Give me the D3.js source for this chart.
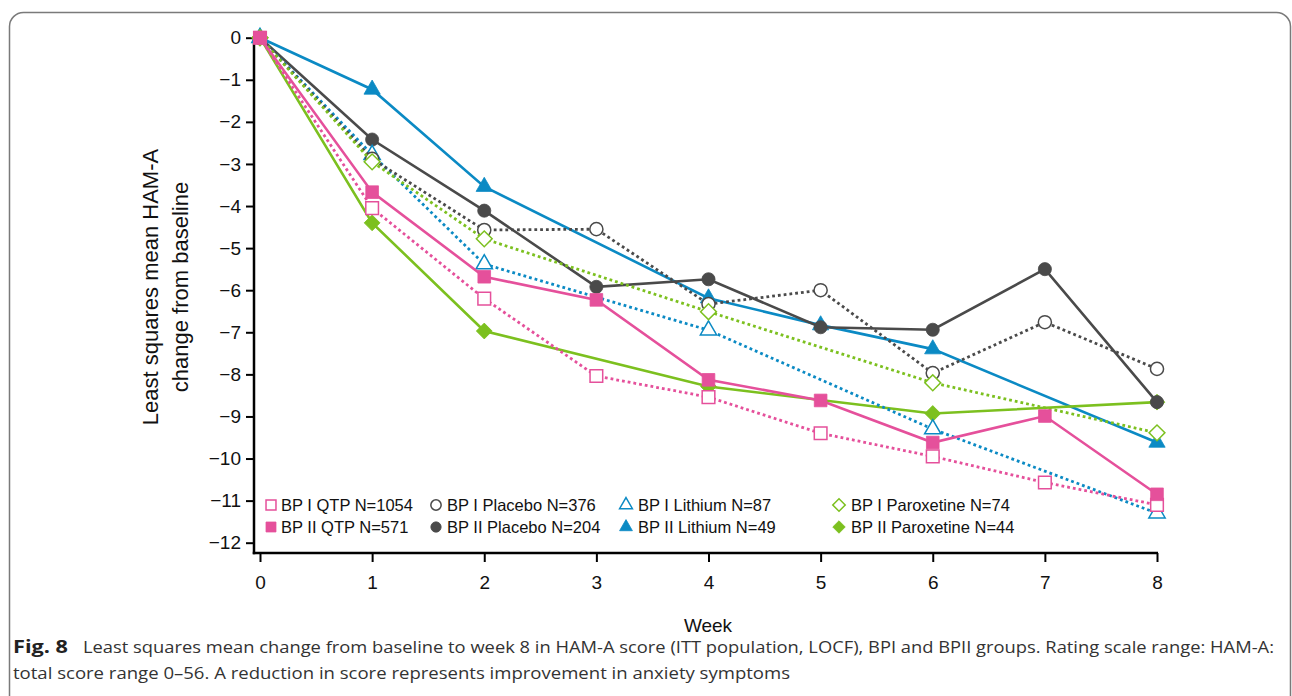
<!DOCTYPE html>
<html><head><meta charset="utf-8">
<script src="https://cdn.jsdelivr.net/npm/d3@7"></script>
<style>body{margin:0;background:#fff}svg{display:block}</style>
</head><body>
<svg id="chart" width="1292" height="696"></svg>
<script>
// ---- data ----
const weeks = [0, 1, 2, 3, 4, 5, 6, 7, 8];
const yTicks = [0, -1, -2, -3, -4, -5, -6, -7, -8, -9, -10, -11, -12];
const bp1Qtp      = [0, -4.05, -6.20, -8.04, -8.54, -9.40, -9.95, -10.57, -11.10];
const bp2Qtp      = [0, -3.67, -5.68, -6.23, -8.13, -8.62, -9.62, -8.99, -10.85];
const bp1Placebo  = [0, -2.88, -4.57, -4.55, -6.33, -6.00, -7.97, -6.76, -7.87];
const bp2Placebo  = [0, -2.42, -4.11, -5.92, -5.74, -6.88, -6.94, -5.50, -8.66];
const bp1Lithium  = [0, -2.78, -5.38, null, -6.95, null, -9.30, null, -11.30];
const bp2Lithium  = [0, -1.23, -3.54, null, -6.19, -6.83, -7.40, null, -9.62];
const bp1Parox    = [0, -2.95, -4.78, null, -6.51, null, -8.20, null, -9.39];
const bp2Parox    = [0, -4.40, -6.97, null, -8.29, null, -8.93, null, -8.66];
const seriesLabels = ["BP I QTP N=1054", "BP I Placebo N=376", "BP I Lithium N=87", "BP I Paroxetine N=74",
                      "BP II QTP N=571", "BP II Placebo N=204", "BP II Lithium N=49", "BP II Paroxetine N=44"];
const xTitle = "Week";
const yTitle = ["Least squares mean HAM-A", "change from baseline"];
const captionBold = "Fig. 8";
const captionLine1 = "Least squares mean change from baseline to week 8 in HAM-A score (ITT population, LOCF), BPI and BPII groups. Rating scale range: HAM-A:";
const captionLine2 = "total score range 0–56. A reduction in score represents improvement in anxiety symptoms";

// ---- styles ----
const PINK = "#E5509B", GRAY = "#4a4a4a", BLUE = "#0B8AC4", GREEN = "#7CC01F";
const series = [
  {label: seriesLabels[6], values: bp2Lithium, color: BLUE,  dotted: false, shape: "triangle", filled: true},
  {label: seriesLabels[7], values: bp2Parox,   color: GREEN, dotted: false, shape: "diamond",  filled: true},
  {label: seriesLabels[5], values: bp2Placebo, color: GRAY,  dotted: false, shape: "circle",   filled: true},
  {label: seriesLabels[2], values: bp1Lithium, color: BLUE,  dotted: true,  shape: "triangle", filled: false},
  {label: seriesLabels[1], values: bp1Placebo, color: GRAY,  dotted: true,  shape: "circle",   filled: false},
  {label: seriesLabels[3], values: bp1Parox,   color: GREEN, dotted: true,  shape: "diamond",  filled: false},
  {label: seriesLabels[0], values: bp1Qtp,     color: PINK,  dotted: true,  shape: "square",   filled: false},
  {label: seriesLabels[4], values: bp2Qtp,     color: PINK,  dotted: false, shape: "square",   filled: true}
];
const legendOrder = [6, 4, 3, 0, 5, 2, 1, 7]; // indexes into series matching seriesLabels order
const FONT = "'Liberation Sans', Arial, Helvetica, sans-serif";

const svg = d3.select("#chart");

// border
svg.append("rect").attr("x", 9.5).attr("y", 12.5).attr("width", 1281).attr("height", 760)
  .attr("rx", 14).attr("fill", "none").attr("stroke", "#7a7a7a").attr("stroke-width", 1.5);

const x = d3.scaleLinear().domain([0, 8]).range([260, 1157]);
const y = d3.scaleLinear().domain([-12, 0]).range([542.7, 37.7]);
const axisY = 553, axisX = 254;

// axes
const gy = svg.append("g").attr("transform", `translate(${axisX},0)`)
  .call(d3.axisLeft(y).tickValues(yTicks).tickSize(8).tickPadding(5).tickFormat(d3.format("d")));
gy.select(".domain").remove();
gy.selectAll(".tick line").attr("stroke", "#000").attr("stroke-width", 2);
gy.selectAll(".tick text").attr("font-family", FONT).attr("font-size", 19).attr("fill", "#111");

const gx = svg.append("g").attr("transform", `translate(0,${axisY})`)
  .call(d3.axisBottom(x).tickValues(weeks).tickSize(9).tickPadding(14).tickFormat(d3.format("d")));
gx.select(".domain").remove();
gx.selectAll(".tick line").attr("stroke", "#000").attr("stroke-width", 2);
gx.selectAll(".tick text").attr("font-family", FONT).attr("font-size", 19).attr("fill", "#111");

svg.append("line").attr("x1", axisX).attr("x2", axisX).attr("y1", y(0) - 1).attr("y2", axisY + 1.25)
  .attr("stroke", "#000").attr("stroke-width", 2.5);
svg.append("line").attr("x1", axisX - 1.25).attr("x2", x(8) + 1).attr("y1", axisY).attr("y2", axisY)
  .attr("stroke", "#000").attr("stroke-width", 2.5);

// titles
svg.append("text").attr("x", (x(0) + x(8)) / 2 + 260 - 260 + (708 - (x(0) + x(8)) / 2)).attr("y", 632)
  .attr("text-anchor", "middle").attr("font-family", FONT).attr("font-size", 19).attr("fill", "#111").text(xTitle);
yTitle.forEach((t, i) => {
  svg.append("text").attr("transform", `translate(${158 + i * 30},287) rotate(-90)`)
    .attr("text-anchor", "middle").attr("font-family", FONT).attr("font-size", 22).attr("fill", "#111").text(t);
});

// markers
function symbolPath(shape, big) {
  const s = big ? 1 : 0.62;
  if (shape === "square") return d3.symbol(d3.symbolSquare, 160 * s)();
  if (shape === "circle") return d3.symbol(d3.symbolCircle, 135 * s)();
  if (shape === "triangle") return d3.symbol(d3.symbolTriangle, 115 * s)();
  return d3.symbol(d3.symbolSquare, 125 * s)();
}
function drawMarker(g, s, cx, cy, big) {
  const p = g.append("path").attr("d", symbolPath(s.shape, big))
    .attr("transform", `translate(${cx},${cy})` + (s.shape === "diamond" ? " rotate(45)" : ""));
  if (s.filled) p.attr("fill", s.color).attr("stroke", s.color).attr("stroke-width", 0.8);
  else p.attr("fill", "#fff").attr("stroke", s.color).attr("stroke-width", 1.5);
}

const line = d3.line().x(d => x(d.w)).y(d => y(d.v));
series.forEach(s => {
  const pts = weeks.map((w, i) => ({w, v: s.values[i]})).filter(d => d.v !== null);
  const g = svg.append("g");
  g.append("path").attr("d", line(pts)).attr("fill", "none").attr("stroke", s.color)
    .attr("stroke-width", s.dotted ? 2.8 : 2.6)
    .attr("stroke-dasharray", s.dotted ? "2.8,3" : null);
  pts.forEach(d => drawMarker(g, s, x(d.w), y(d.v), true));
});

// legend
const legCols = [[271, 281], [436, 447], [626, 638], [839, 851]];
const legRows = [505, 527];
seriesLabels.forEach((lab, i) => {
  const s = series.find(q => q.label === lab);
  const col = legCols[i % 4], row = legRows[Math.floor(i / 4)];
  const g = svg.append("g");
  drawMarker(g, s, col[0], row, false);
  g.append("text").attr("x", col[1]).attr("y", row + 6).attr("font-family", FONT)
    .attr("font-size", 16.5).attr("fill", "#111").text(lab);
});

// caption
const CAP = "'Open Sans', 'Noto Sans', sans-serif";
svg.append("text").attr("x", 13).attr("y", 653).attr("font-family", CAP).attr("font-weight", "bold")
  .attr("font-size", 17).attr("fill", "#222").attr("textLength", 55).attr("lengthAdjust", "spacingAndGlyphs").text(captionBold);
svg.append("text").attr("x", 83).attr("y", 653).attr("font-family", CAP)
  .attr("font-size", 17).attr("fill", "#333").attr("textLength", 1191).attr("lengthAdjust", "spacingAndGlyphs").text(captionLine1);
svg.append("text").attr("x", 13).attr("y", 679).attr("font-family", CAP)
  .attr("font-size", 17).attr("fill", "#333").attr("textLength", 777).attr("lengthAdjust", "spacingAndGlyphs").text(captionLine2);
</script>
</body></html>
